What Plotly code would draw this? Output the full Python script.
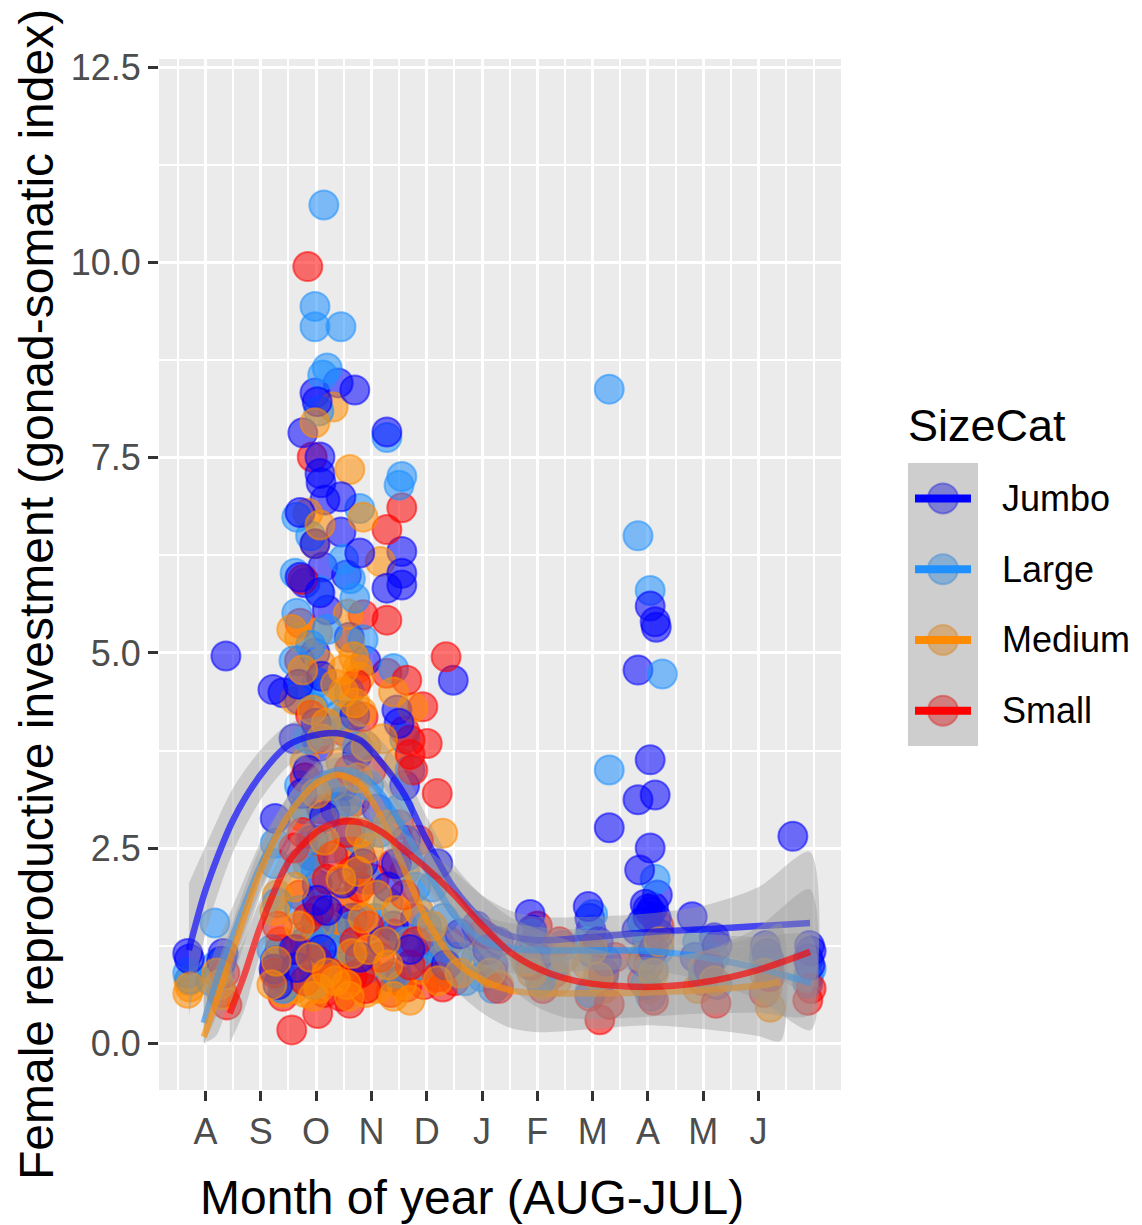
import plotly.graph_objects as go

# ---- data -------------------------------------------------------------
# month position: 1 = Aug ... 12 = Jul (points carry horizontal jitter)
month_ticks = [1, 2, 3, 4, 5, 6, 7, 8, 9, 10, 11]
month_labels = ["A", "S", "O", "N", "D", "J", "F", "M", "A", "M", "J"]
gsi_ticks = [0, 2.5, 5, 7.5, 10, 12.5]
gsi_labels = ["0.0", "2.5", "5.0", "7.5", "10.0", "12.5"]

size_cats = ["Jumbo", "Large", "Medium", "Small"]

jumbo_pts = [
    (0.68, 1.15), (0.71, 1.08), (1.32, 1.15), (1.29, 1.05), (1.37, 4.96),
    (2.22, 4.53), (2.40, 4.49), (2.26, 2.88), (2.26, 1.06), (2.24, 0.95), (2.38, 0.85), (2.31, 0.75),
    (3.40, 8.46), (3.70, 8.37), (2.98, 8.33), (3.02, 8.22), (2.76, 7.82), (3.07, 7.51), (3.07, 7.30),
    (3.09, 7.18), (3.16, 6.96), (2.71, 6.80), (3.45, 6.55), (2.71, 5.97), (2.80, 5.90), (3.07, 5.77),
    (3.20, 5.55), (2.98, 6.40), (2.98, 5.00), (3.10, 4.70), (2.70, 4.40), (3.00, 4.10), (3.05, 3.80),
    (2.85, 3.50), (3.02, 2.03), (3.02, 1.83), (3.00, 1.55), (2.65, 0.97), (2.80, 1.30), (3.10, 1.20),
    (2.90, 2.40), (3.15, 2.90), (2.60, 3.90), (2.68, 4.60), (3.12, 6.10),
    (2.75, 3.20), (2.95, 2.60), (3.20, 1.70), (3.35, 3.00), (2.60, 1.20), (3.30, 1.00),
    (3.49, 2.05), (3.55, 6.00), (3.79, 6.28), (3.60, 5.20), (3.70, 4.20), (3.50, 3.30), (3.85, 2.30),
    (3.65, 1.60), (3.80, 1.10), (3.55, 0.90), (3.45, 7.00), (3.62, 2.70), (3.75, 3.70), (3.90, 4.90),
    (4.28, 7.83), (4.55, 6.30), (4.55, 6.02), (4.55, 5.87), (4.28, 5.83), (4.46, 4.27), (4.50, 4.10),
    (4.60, 3.30), (4.30, 2.00), (4.40, 1.50), (4.70, 1.20), (4.35, 0.85), (4.62, 2.60), (4.10, 3.00),
    (4.45, 2.30), (4.80, 1.60), (4.20, 1.30),
    (5.48, 4.65), (5.20, 2.30), (5.10, 1.30), (5.35, 1.00), (5.00, 1.10), (5.60, 1.40),
    (5.90, 1.50), (6.10, 1.20), (6.20, 1.00), (6.30, 1.30),
    (6.87, 1.65), (6.90, 1.45), (6.95, 1.30), (7.00, 1.10), (6.85, 1.20),
    (7.92, 1.75), (7.95, 1.60), (8.30, 2.76), (7.97, 1.45), (8.10, 1.30), (8.00, 1.15), (8.25, 1.05), (8.20, 0.90),
    (9.04, 5.60), (9.13, 5.40), (9.15, 5.33), (8.82, 4.78), (9.04, 3.63), (8.82, 3.12), (9.13, 3.18),
    (9.04, 2.50), (8.85, 2.22), (9.17, 1.90), (8.95, 1.78), (9.00, 1.72), (9.05, 1.68), (9.10, 1.74),
    (9.00, 1.62), (8.90, 1.55), (9.15, 1.60), (8.80, 1.45), (9.20, 1.40), (9.00, 1.30), (9.10, 1.20), (8.90, 1.05),
    (9.80, 1.62), (10.20, 1.35), (10.25, 1.25), (9.85, 1.10), (10.10, 0.95),
    (11.12, 1.25), (11.15, 1.15), (11.20, 1.05),
    (11.62, 2.65), (11.92, 1.25), (11.95, 1.18), (11.90, 1.08), (11.93, 1.00),
]

large_pts = [
    (0.68, 0.90), (0.72, 0.82), (1.17, 1.54), (1.20, 1.00), (1.25, 0.88), (1.10, 0.80),
    (2.26, 2.56), (2.25, 2.30), (2.30, 1.80), (2.20, 1.20), (2.35, 0.90), (2.40, 0.70),
    (3.14, 10.74), (2.98, 9.44), (2.98, 9.18), (3.45, 9.18), (3.20, 8.65), (3.12, 8.56), (3.05, 8.10),
    (2.65, 6.74), (2.62, 6.02), (2.65, 5.51), (2.90, 6.50), (2.90, 5.10), (2.75, 4.60), (3.02, 4.62),
    (3.15, 4.50), (2.95, 4.30), (3.10, 4.00), (3.20, 5.30), (2.70, 3.30), (2.80, 3.00), (3.07, 1.49),
    (2.90, 2.60), (3.00, 2.20), (2.70, 1.70), (2.80, 1.10), (3.10, 0.90), (2.95, 0.75), (2.60, 4.90),
    (3.05, 5.80), (2.85, 3.90), (2.70, 2.30), (3.15, 3.30), (2.85, 1.40),
    (3.79, 6.85), (3.85, 5.17), (3.50, 6.20), (3.70, 5.70), (3.60, 4.50), (3.75, 3.80), (3.55, 3.10),
    (3.80, 2.60), (3.90, 2.10), (3.65, 1.50), (3.50, 1.20), (3.90, 0.95), (3.62, 5.95), (3.30, 2.50),
    (3.40, 4.20), (3.95, 3.30), (3.30, 1.20),
    (4.28, 7.76), (4.55, 7.26), (4.50, 7.15), (4.40, 4.80), (4.60, 3.90), (4.70, 3.50), (4.50, 3.00),
    (4.65, 2.40), (4.30, 1.80), (4.60, 1.30), (4.45, 0.90), (4.15, 2.70), (4.05, 1.60), (4.80, 2.00),
    (5.10, 2.00), (5.30, 1.60), (5.20, 1.20), (5.40, 0.90), (5.00, 1.50), (4.90, 1.00), (5.55, 1.10),
    (5.95, 1.35), (6.10, 1.10), (6.00, 0.85), (6.20, 0.70), (5.70, 0.80),
    (6.90, 1.40), (7.00, 1.20), (6.85, 1.00), (7.05, 0.80), (7.30, 1.00), (7.45, 1.25),
    (8.30, 8.38), (8.30, 3.50), (8.00, 1.65), (7.90, 1.30), (8.10, 1.10), (8.20, 0.85), (7.95, 0.65),
    (8.82, 6.50), (9.04, 5.80), (9.26, 4.73), (9.13, 2.10), (8.90, 1.50), (9.00, 1.35), (9.20, 1.20),
    (9.10, 0.95), (8.95, 0.75), (9.05, 0.60),
    (9.90, 1.30), (10.20, 1.10), (10.00, 0.90), (10.25, 0.75),
    (11.10, 1.10), (11.20, 0.90), (11.15, 1.00),
    (11.89, 0.77), (11.95, 0.95), (11.90, 0.85),
]

medium_pts = [
    (0.68, 0.64), (0.72, 0.72), (0.70, 0.80), (1.25, 0.75), (1.30, 0.62), (1.20, 0.90),
    (2.30, 1.90), (2.25, 1.70), (2.35, 1.30), (2.20, 0.75), (2.40, 0.65), (2.28, 1.05),
    (3.31, 8.15), (2.98, 7.95), (2.85, 6.79), (3.07, 6.64), (2.98, 6.40), (2.56, 5.30), (3.03, 5.26),
    (2.76, 4.78), (3.07, 4.87), (2.93, 4.27), (2.70, 5.20), (3.10, 3.90), (2.80, 3.60), (3.00, 3.20),
    (2.75, 2.90), (3.15, 2.60), (2.85, 2.30), (2.60, 2.00), (3.10, 1.80), (2.70, 1.50), (3.00, 1.30),
    (2.90, 1.10), (2.65, 0.85), (3.05, 0.70), (2.80, 0.65), (3.20, 0.90), (2.62, 4.40), (3.18, 4.10),
    (2.60, 0.70), (2.95, 0.60), (3.25, 1.50), (3.35, 0.80), (3.30, 3.30), (3.35, 4.60),
    (3.61, 7.35), (3.85, 6.74), (3.61, 5.13), (3.49, 4.78), (3.79, 4.69), (3.70, 4.36), (3.40, 4.10),
    (3.50, 4.50), (3.65, 3.90), (3.75, 3.40), (3.55, 3.00), (3.80, 2.70), (3.60, 2.40), (3.45, 2.10),
    (3.70, 1.90), (3.85, 1.60), (3.50, 1.40), (3.65, 1.15), (3.75, 0.90), (3.55, 0.75), (3.90, 0.65),
    (3.68, 4.95), (3.58, 5.50), (3.82, 4.25), (3.45, 3.60), (3.75, 2.20), (3.48, 0.95), (3.95, 1.20),
    (3.55, 4.20), (3.90, 3.80), (3.75, 4.80), (3.95, 2.50), (3.90, 1.00), (3.60, 0.60),
    (4.16, 6.17), (4.40, 4.50), (4.50, 3.60), (4.30, 2.80), (4.60, 2.20), (4.45, 1.70), (4.70, 1.30),
    (4.70, 0.55), (4.93, 0.94), (4.30, 1.00), (4.55, 0.75), (4.20, 3.90), (4.75, 4.30), (4.10, 1.90),
    (4.10, 0.70), (4.25, 1.30), (4.85, 1.70), (4.40, 0.60),
    (5.29, 2.69), (5.10, 1.50), (5.30, 1.10), (5.20, 0.80), (5.40, 1.30), (5.60, 0.90),
    (5.90, 1.10), (6.15, 0.90), (6.30, 0.75),
    (6.90, 0.90), (7.10, 0.75), (6.80, 1.05), (7.35, 0.80), (7.50, 1.10),
    (7.90, 1.00), (8.10, 0.85), (8.20, 0.70), (8.00, 1.20),
    (8.90, 1.10), (9.10, 0.90), (9.00, 0.70), (9.20, 1.30),
    (10.00, 0.95), (10.20, 0.80), (9.90, 0.70),
    (11.21, 0.46), (11.15, 0.70), (11.10, 0.90),
]

small_pts = [
    (1.39, 0.49), (1.35, 0.90), (1.30, 0.65),
    (2.30, 1.50), (2.35, 1.20), (2.25, 0.90), (2.40, 0.60),
    (2.85, 9.95), (2.93, 7.51), (2.76, 5.94), (2.71, 5.38), (2.56, 0.17), (3.03, 0.38), (3.02, 1.06),
    (2.70, 4.90), (2.90, 4.20), (3.00, 3.90), (2.80, 3.40), (3.10, 3.00), (2.75, 2.70), (2.95, 2.40),
    (3.20, 2.10), (2.70, 1.90), (2.85, 1.60), (3.10, 1.40), (2.65, 1.20), (2.95, 0.95), (2.80, 0.80),
    (3.15, 0.65), (3.05, 1.70), (2.90, 1.25), (2.60, 2.50), (3.10, 2.60), (3.30, 2.40), (3.35, 1.60),
    (3.25, 0.90),
    (3.85, 5.49), (3.85, 4.18), (3.61, 0.51), (3.79, 0.90), (3.79, 1.62), (3.79, 2.00), (3.50, 4.00),
    (3.60, 3.50), (3.70, 3.10), (3.55, 2.70), (3.80, 2.40), (3.65, 2.20), (3.50, 1.80), (3.70, 1.30),
    (3.60, 1.10), (3.90, 0.70), (3.45, 0.60), (3.72, 4.60), (3.55, 1.45), (3.65, 0.85), (3.40, 3.30),
    (3.95, 1.50), (4.00, 3.50),
    (4.28, 6.58), (4.55, 6.86), (4.28, 5.42), (4.28, 4.74), (4.64, 4.65), (4.93, 4.31), (4.70, 3.88),
    (5.01, 3.84), (4.70, 3.70), (4.60, 4.00), (4.75, 3.50), (4.50, 2.80), (4.40, 2.30), (4.64, 0.72),
    (4.60, 1.90), (4.40, 1.40), (4.70, 1.00), (4.50, 0.80), (4.85, 2.60), (4.05, 2.10), (4.15, 1.10),
    (4.35, 0.65), (4.80, 1.30), (4.95, 0.75),
    (5.35, 4.95), (5.19, 3.20), (5.29, 0.72), (5.10, 1.20), (5.20, 0.85), (5.50, 0.80),
    (6.00, 1.40), (6.20, 0.90), (6.30, 0.70),
    (7.00, 1.50), (6.90, 1.00), (7.10, 0.70), (7.40, 1.30), (7.30, 0.90),
    (8.13, 0.30), (7.95, 0.60), (8.20, 0.90), (8.00, 1.20), (8.30, 0.50), (8.40, 1.10),
    (9.20, 1.50), (9.00, 1.00), (9.10, 0.55), (8.90, 0.80),
    (10.23, 0.51), (10.00, 0.80), (10.10, 1.00),
    (11.10, 0.65), (11.20, 0.85),
    (11.89, 0.55), (11.95, 0.70),
]

# loess fits with their confidence bands
jumbo_fit_x = [0.70, 1.0, 1.5, 2.0, 2.5, 3.0, 3.4, 3.8, 4.2, 4.6, 5.0, 5.5, 6.0, 6.5, 7.0, 8.0, 9.0, 10.0, 11.0, 11.93]
jumbo_fit_y = [1.19, 1.96, 2.86, 3.44, 3.82, 3.95, 3.97, 3.88, 3.58, 3.18, 2.60, 1.98, 1.58, 1.38, 1.32, 1.36, 1.42, 1.46, 1.50, 1.54]
jumbo_fit_lo = [0.35, 1.40, 2.45, 3.12, 3.55, 3.72, 3.75, 3.64, 3.30, 2.88, 2.30, 1.68, 1.26, 1.06, 1.02, 1.10, 1.18, 1.16, 1.00, 0.65]
jumbo_fit_hi = [2.05, 2.52, 3.27, 3.76, 4.09, 4.18, 4.19, 4.12, 3.86, 3.48, 2.90, 2.28, 1.90, 1.70, 1.62, 1.62, 1.66, 1.76, 2.00, 2.45]

large_fit_x = [0.97, 1.2, 1.5, 2.0, 2.5, 3.0, 3.4, 3.8, 4.2, 4.6, 5.0, 5.5, 6.0, 6.5, 7.0, 8.0, 9.0, 10.0, 11.0, 11.95]
large_fit_y = [0.26, 0.80, 1.38, 2.28, 2.92, 3.37, 3.50, 3.44, 3.18, 2.73, 2.22, 1.64, 1.32, 1.22, 1.19, 1.19, 1.18, 1.10, 0.96, 0.77]
large_fit_lo = [0.00, 0.35, 1.00, 1.98, 2.67, 3.15, 3.28, 3.22, 2.95, 2.48, 1.95, 1.34, 1.00, 0.90, 0.89, 0.93, 0.94, 0.80, 0.56, 0.17]
large_fit_hi = [0.81, 1.25, 1.76, 2.58, 3.17, 3.59, 3.72, 3.66, 3.41, 2.98, 2.49, 1.94, 1.64, 1.54, 1.49, 1.45, 1.42, 1.40, 1.36, 1.37]

medium_fit_x = [0.97, 1.2, 1.5, 2.0, 2.5, 3.0, 3.4, 3.8, 4.2, 4.6, 5.0, 5.5, 6.0, 6.5, 7.0, 8.0, 9.0, 10.0, 11.0, 11.4]
medium_fit_y = [0.08, 0.55, 1.19, 2.22, 2.92, 3.33, 3.44, 3.31, 2.86, 2.22, 1.58, 1.06, 0.81, 0.68, 0.64, 0.64, 0.65, 0.68, 0.74, 0.78]
medium_fit_lo = [0.00, 0.10, 0.81, 1.92, 2.67, 3.11, 3.22, 3.09, 2.62, 1.96, 1.28, 0.70, 0.39, 0.20, 0.14, 0.18, 0.23, 0.18, 0.09, 0.03]
medium_fit_hi = [0.63, 1.00, 1.57, 2.52, 3.17, 3.55, 3.66, 3.53, 3.10, 2.48, 1.88, 1.42, 1.23, 1.16, 1.14, 1.10, 1.07, 1.18, 1.39, 1.53]

small_fit_x = [1.44, 1.7, 2.0, 2.5, 3.0, 3.4, 3.8, 4.2, 4.6, 5.0, 5.5, 6.0, 6.5, 7.0, 7.5, 8.0, 9.0, 10.0, 11.0, 11.93]
small_fit_y = [0.38, 0.87, 1.51, 2.32, 2.70, 2.83, 2.83, 2.70, 2.47, 2.24, 1.90, 1.51, 1.17, 0.96, 0.83, 0.76, 0.72, 0.78, 0.94, 1.17]
small_fit_lo = [0.00, 0.42, 1.16, 2.05, 2.48, 2.63, 2.63, 2.49, 2.25, 1.99, 1.60, 1.13, 0.72, 0.46, 0.33, 0.31, 0.34, 0.38, 0.39, 0.37]
small_fit_hi = [0.98, 1.32, 1.86, 2.59, 2.92, 3.03, 3.03, 2.91, 2.69, 2.49, 2.20, 1.89, 1.62, 1.46, 1.33, 1.21, 1.10, 1.18, 1.49, 1.97]

# ---- styling ----------------------------------------------------------
FONT = "Liberation Sans, Arial, Helvetica, sans-serif"
RGB = {
    "Jumbo": (0, 0, 255),
    "Large": (30, 144, 255),
    "Medium": (255, 140, 0),
    "Small": (255, 0, 0),
}
PT_ALPHA = 0.55
LINE_ALPHA = 0.65


def rgba(c, a):
    return "rgba(%d,%d,%d,%.3f)" % (c[0], c[1], c[2], a)


points = {"Jumbo": jumbo_pts, "Large": large_pts, "Medium": medium_pts, "Small": small_pts}
fits = {
    "Jumbo": (jumbo_fit_x, jumbo_fit_y, jumbo_fit_lo, jumbo_fit_hi),
    "Large": (large_fit_x, large_fit_y, large_fit_lo, large_fit_hi),
    "Medium": (medium_fit_x, medium_fit_y, medium_fit_lo, medium_fit_hi),
    "Small": (small_fit_x, small_fit_y, small_fit_lo, small_fit_hi),
}

fig = go.Figure()

# jittered points, drawn in two interleaved passes so the groups overlap in mixed order
passes = [(0, ["Small", "Jumbo", "Medium", "Large"]), (1, ["Large", "Small", "Jumbo", "Medium"])]
for parity, order in passes:
    for cat in order:
        sel = points[cat][parity::2]
        fig.add_trace(go.Scatter(
            x=[p[0] for p in sel], y=[p[1] for p in sel], mode="markers", name=cat, showlegend=False,
            marker=dict(size=29, color=rgba(RGB[cat], PT_ALPHA),
                        line=dict(width=2, color=rgba(RGB[cat], PT_ALPHA))),
            hoverinfo="skip",
        ))

# smoothers: ribbon then line, group by group
for cat in size_cats:
    fx, fy, lo, hi = fits[cat]
    fig.add_trace(go.Scatter(
        x=list(fx) + list(fx)[::-1], y=list(hi) + list(lo)[::-1],
        mode="lines", fill="toself", fillcolor="rgba(153,153,153,0.4)",
        line=dict(width=0, shape="spline", smoothing=0.8), showlegend=False, hoverinfo="skip",
    ))
    fig.add_trace(go.Scatter(
        x=fx, y=fy, mode="lines", showlegend=False, hoverinfo="skip",
        line=dict(color=rgba(RGB[cat], LINE_ALPHA), width=6.5, shape="spline", smoothing=0.8),
    ))

# ---- layout -----------------------------------------------------------
W, H = 1142, 1225
L, R, T, B = 159, 841, 59, 1090   # panel edges in pixels


def px(xp):
    return (xp - L) / (R - L)


def py(yp):
    return (B - yp) / (B - T)


axis_common = dict(
    showline=False, zeroline=False, ticks="outside", ticklen=10, tickwidth=2.5,
    tickcolor="#333333", tickfont=dict(family=FONT, size=36, color="#4d4d4d"),
    showgrid=True, gridcolor="white", gridwidth=3,
)

fig.update_layout(
    width=W, height=H,
    margin=dict(l=L, r=W - R, t=T, b=H - B, pad=0),
    paper_bgcolor="white", plot_bgcolor="#ebebeb",
    showlegend=False,
    font=dict(family=FONT, color="black"),
    xaxis=dict(
        range=[0.16, 12.49], tickmode="array", tickvals=month_ticks, ticktext=month_labels,
        minor=dict(tickmode="array", tickvals=[0.5, 1.5, 2.5, 3.5, 4.5, 5.5, 6.5, 7.5, 8.5, 9.5, 10.5, 11.5, 12],
                   showgrid=True, gridcolor="white", gridwidth=1.6, ticks=""),
        **axis_common,
    ),
    yaxis=dict(
        range=[-0.6, 12.61], tickmode="array", tickvals=gsi_ticks, ticktext=gsi_labels,
        minor=dict(tickmode="array", tickvals=[1.25, 3.75, 6.25, 8.75, 11.25],
                   showgrid=True, gridcolor="white", gridwidth=1.6, ticks=""),
        **axis_common,
    ),
)

annotations = [
    dict(text="Month of year (AUG-JUL)", x=px(472), y=py(1197), xref="paper", yref="paper",
         xanchor="center", yanchor="middle", showarrow=False, font=dict(family=FONT, size=48, color="black")),
    dict(text="Female reproductive investment (gonad-somatic index)", x=px(37), y=py(595),
         xref="paper", yref="paper", xanchor="center", yanchor="middle", textangle=-90,
         showarrow=False, font=dict(family=FONT, size=48, color="black")),
    dict(text="SizeCat", x=px(906), y=py(425), xref="paper", yref="paper",
         xanchor="left", yanchor="middle", showarrow=False, font=dict(family=FONT, size=45, color="black")),
]

# legend keys: background, point, ribbon overlay, line
key_x0, key_x1 = 908, 978
key_top, key_h = 463, 70.75
shapes = [dict(type="rect", xref="paper", yref="paper", x0=px(key_x0), x1=px(key_x1),
               y0=py(key_top + 4 * key_h), y1=py(key_top), fillcolor="#f2f2f2", line=dict(width=0), layer="above")]
for i, cat in enumerate(size_cats):
    yc = key_top + key_h * (i + 0.5)
    shapes.append(dict(type="circle", xref="paper", yref="paper",
                       x0=px(943 - 15), x1=px(943 + 15), y0=py(yc + 15), y1=py(yc - 15),
                       fillcolor=rgba(RGB[cat], PT_ALPHA), line=dict(width=2, color=rgba(RGB[cat], PT_ALPHA)),
                       layer="above"))
    annotations.append(dict(text=cat, x=px(1000), y=py(yc), xref="paper", yref="paper",
                            xanchor="left", yanchor="middle", showarrow=False,
                            font=dict(family=FONT, size=36, color="black")))
shapes.append(dict(type="rect", xref="paper", yref="paper", x0=px(key_x0), x1=px(key_x1),
                   y0=py(key_top + 4 * key_h), y1=py(key_top), fillcolor="rgba(153,153,153,0.4)",
                   line=dict(width=0), layer="above"))
for i, cat in enumerate(size_cats):
    yc = key_top + key_h * (i + 0.5)
    shapes.append(dict(type="line", xref="paper", yref="paper", x0=px(915), x1=px(971),
                       y0=py(yc), y1=py(yc), line=dict(color=rgba(RGB[cat], 1), width=8), layer="above"))

fig.update_layout(annotations=annotations, shapes=shapes)

fig.write_html("out.html")
